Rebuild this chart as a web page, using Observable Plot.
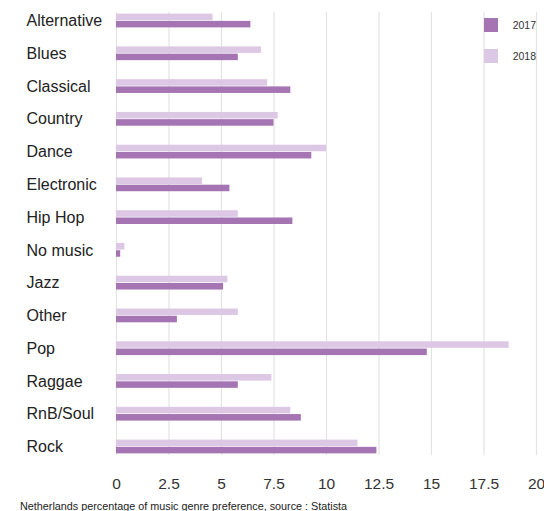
<!DOCTYPE html>
<html>
<head>
<meta charset="utf-8">
<script src="https://cdn.jsdelivr.net/npm/d3@7"></script>
<script src="https://cdn.jsdelivr.net/npm/@observablehq/plot@0.6"></script>
<style>
  html, body { margin: 0; padding: 0; background: #fff; overflow: hidden; }
  #chart { position: relative; width: 544px; font-family: "Liberation Sans", Arial, sans-serif; }
  #legend { position: absolute; left: 484px; top: 18px; font-size: 10.5px; color: #333; }
  #legend .row { display: flex; align-items: center; height: 14px; margin-bottom: 16.7px; }
  #legend .sw { width: 14px; height: 14px; margin-right: 14.7px; }
  #caption { margin: 3px 0 0 20px; font-size: 10.8px; line-height: 14px; color: #222; }
</style>
</head>
<body>
<div id="chart"></div>
<script>
// Music genre preference in the Netherlands (% of respondents)
const genres = ["Alternative", "Blues", "Classical", "Country", "Dance", "Electronic", "Hip Hop",
                "No music", "Jazz", "Other", "Pop", "Raggae", "RnB/Soul", "Rock"];
const years = ["2017", "2018"];
const values2017 = [6.4, 5.8, 8.3, 7.5, 9.3, 5.4, 8.4, 0.2, 5.1, 2.9, 14.8, 5.8, 8.8, 12.4];
const values2018 = [4.6, 6.9, 7.2, 7.7, 10.0, 4.1, 5.8, 0.4, 5.3, 5.8, 18.7, 7.4, 8.3, 11.5];
const xTicks = [0, 2.5, 5, 7.5, 10, 12.5, 15, 17.5, 20];
const xTickLabels = ["0", "2.5", "5", "7.5", "10", "12.5", "15", "17.5", "20"];
const caption = "Netherlands percentage of music genre preference, source : Statista";

const rows = genres.flatMap((g, i) => [
  {genre: g, year: "2017", value: values2017[i]},
  {genre: g, year: "2018", value: values2018[i]}
]);

// layout
const width = 544, height = 496;
const marginTop = 12, marginBottom = 41, marginLeft = 116, marginRight = 8;
const padInner = 0.58, padOuter = 0.05;
const step = (height - marginTop - marginBottom) / (genres.length - padInner + 2 * padOuter);
const half = step * (1 - padInner) / 2; // each year takes half of the band
const gap = 0.35;

const colors = ["#a574b2", "#dcc8e5"];

const plot = Plot.plot({
  width, height, marginTop, marginBottom, marginLeft, marginRight,
  style: {fontFamily: "'Liberation Sans', Arial, sans-serif", background: "#fff"},
  x: {domain: [0, 20], axis: null},
  y: {domain: genres, paddingInner: padInner, paddingOuter: padOuter, round: false, axis: null},
  color: {domain: years, range: colors},
  marks: [
    Plot.ruleX(xTicks, {stroke: "#e3e3e3", strokeWidth: 1.2}),
    Plot.barX(rows.filter(d => d.year === "2018"),
      {x: "value", y: "genre", fill: "year", insetBottom: half + gap}),
    Plot.barX(rows.filter(d => d.year === "2017"),
      {x: "value", y: "genre", fill: "year", insetTop: half + gap}),
    Plot.axisY({tickSize: 0, tickPadding: marginLeft - 26, textAnchor: "start",
      fontSize: 16, fill: "#222", label: null}),
    Plot.axisX(xTicks, {tickSize: 0, tickPadding: 22, fontSize: 15.5, fill: "#333", label: null,
      tickFormat: d => xTickLabels[xTicks.indexOf(d)]})
  ]
});

const chart = document.getElementById("chart");
chart.appendChild(plot);

// year legend, colours taken from the plot's color scale
const color = plot.scale("color");
const legend = document.createElement("div");
legend.id = "legend";
for (const y of years) {
  const row = document.createElement("div");
  row.className = "row";
  const sw = document.createElement("div");
  sw.className = "sw";
  sw.style.background = color.apply(y);
  const label = document.createElement("span");
  label.textContent = y;
  row.append(sw, label);
  legend.appendChild(row);
}
chart.appendChild(legend);

const cap = document.createElement("div");
cap.id = "caption";
cap.textContent = caption;
chart.appendChild(cap);
</script>
</body>
</html>
